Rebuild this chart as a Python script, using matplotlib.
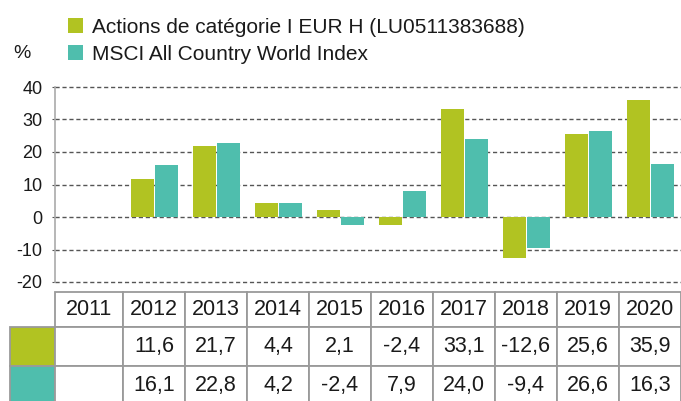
import numpy as np
import matplotlib
matplotlib.use('agg')
import matplotlib.pyplot as plt
from matplotlib.patches import Patch

plt.rcParams['font.family'] = ['Liberation Sans', 'DejaVu Sans']
plt.rcParams['axes.unicode_minus'] = False

years = ['2011', '2012', '2013', '2014', '2015', '2016', '2017', '2018', '2019', '2020']
fund = [np.nan, 11.6, 21.7, 4.4, 2.1, -2.4, 33.1, -12.6, 25.6, 35.9]
index = [np.nan, 16.1, 22.8, 4.2, -2.4, 7.9, 24.0, -9.4, 26.6, 16.3]
series_names = ['Actions de catégorie I EUR H (LU0511383688)', 'MSCI All Country World Index']
yticks = [-20, -10, 0, 10, 20, 30, 40]

lime = '#b1c322'
teal = '#4fbead'
txt = '#1a1a1a'
edge = '#9a9a9a'

W, H = 681, 401
fig = plt.figure(figsize=(W / 100, H / 100), dpi=100)

# column widths in pixels (first year column a bit wider)
col_w = np.array([68] + [62] * 9, dtype=float)
centres = np.cumsum(col_w) - col_w / 2

ax = fig.add_axes([55 / W, (H - 282) / H, 626 / W, 195 / H])
bw = 23
off = 12
ax.bar(centres - off, fund, width=bw, color=lime, zorder=3)
ax.bar(centres + off, index, width=bw, color=teal, zorder=3)
ax.set_xlim(0, col_w.sum())
ax.set_ylim(-20, 40)
ax.set_yticks(yticks)
ax.set_yticklabels([str(t) for t in yticks], fontsize=13, color=txt)
ax.set_xticks([])
for t in yticks:
    ax.axhline(t, color='#555555', lw=1.0, ls=(0, (3, 2)), zorder=1, clip_on=False)
for s in ['top', 'right', 'bottom']:
    ax.spines[s].set_visible(False)
ax.spines['left'].set_color('#aaaaaa')
ax.spines['left'].set_linewidth(1.2)
ax.tick_params(axis='y', length=2, color='#555555', pad=7)

fig.text(13 / W, 1 - 53 / H, '%', fontsize=14, color=txt, va='center', ha='left')

handles = [Patch(facecolor=lime, edgecolor='none'), Patch(facecolor=teal, edgecolor='none')]
fig.legend(handles, series_names, loc='upper left', bbox_to_anchor=(68 / W, 1 - 18 / H),
           frameon=False, fontsize=15, handlelength=0.72, handleheight=0.72,
           handletextpad=0.45, labelspacing=0.38, borderpad=0, borderaxespad=0,
           labelcolor=txt)

# table below the chart, first column holds the colour swatches
row_h = [35, 39, 39]
label_w = 45
tab_w = np.concatenate([[label_w], col_w])
tax = fig.add_axes([10 / W, (H - 292 - sum(row_h)) / H, tab_w.sum() / W, sum(row_h) / H])
tax.axis('off')

def fmt(v):
    return '' if np.isnan(v) else ('%.1f' % v).replace('.', ',')

cell_text = [[''] + [fmt(v) for v in fund], [''] + [fmt(v) for v in index]]
cell_colours = [[lime] + ['white'] * len(years), [teal] + ['white'] * len(years)]
tab = tax.table(cellText=cell_text, cellColours=cell_colours, colLabels=[''] + years,
                cellLoc='center', bbox=[0, 0, 1, 1])
tab.auto_set_font_size(False)
for (r, c), cell in tab.get_celld().items():
    cell.set_edgecolor(edge)
    cell.set_linewidth(1.3)
    cell.set_width(tab_w[c])
    cell.set_height(row_h[r])
    cell.get_text().set_fontsize(15.5)
    cell.get_text().set_color(txt)
tab[0, 0].set_visible(False)

fig.savefig('out.png', dpi=100)
